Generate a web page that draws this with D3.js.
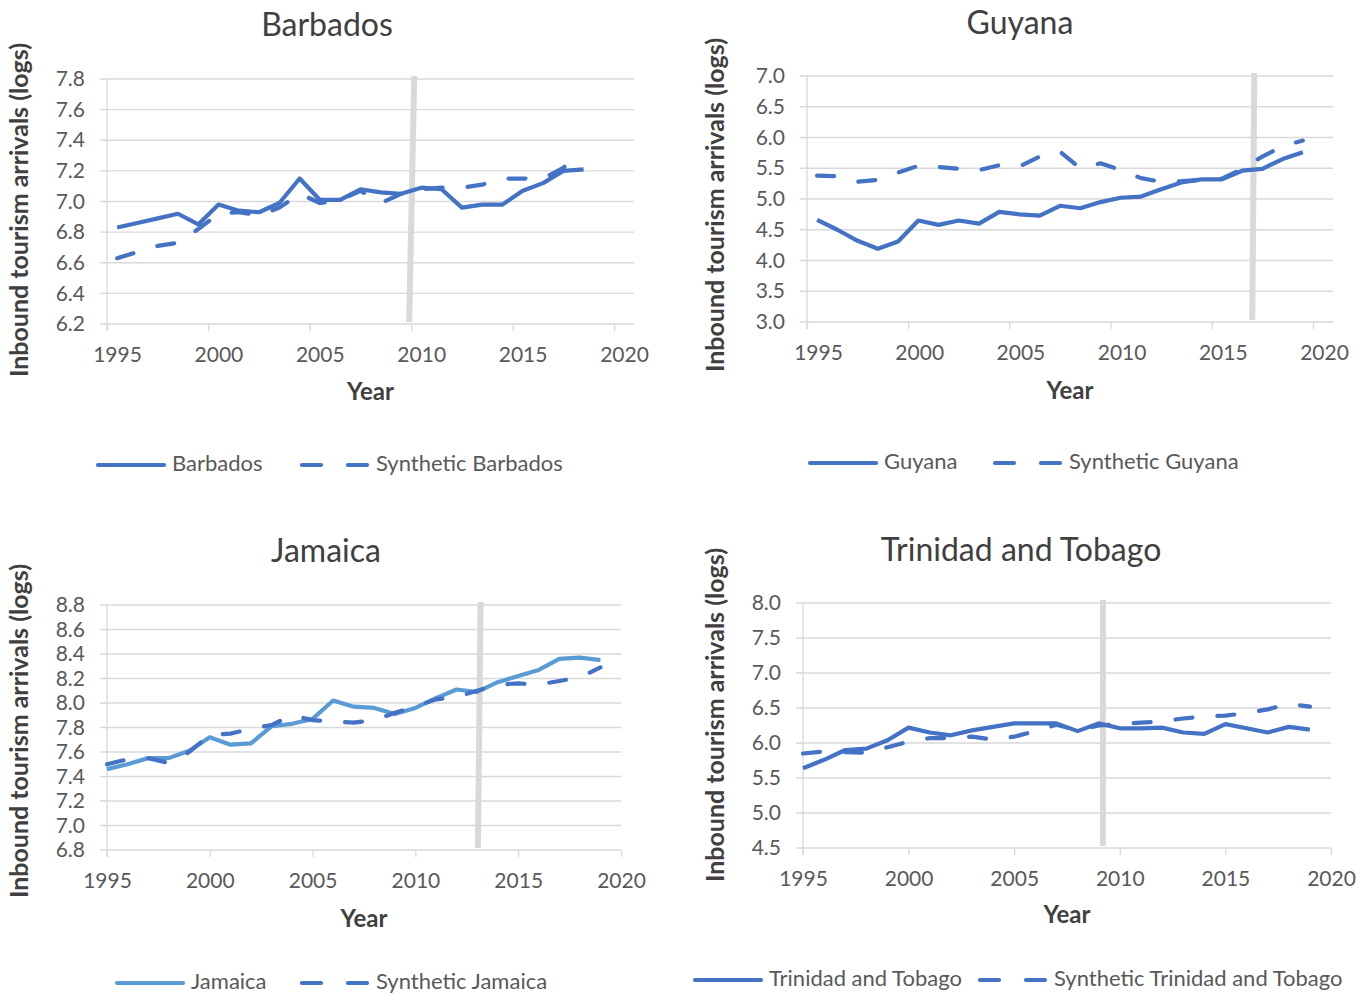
<!DOCTYPE html>
<html>
<head>
<meta charset="utf-8">
<script src="https://cdn.jsdelivr.net/npm/d3@7"></script>
<style>
  body { margin: 0; background: #fff; }
  svg { font-family: Lato, "Noto Sans", sans-serif; }
</style>
</head>
<body>
<div id="chart"></div>
<script>
// values
const barbadosYears = [1995, 1996, 1997, 1998, 1999, 2000, 2001, 2002, 2003, 2004, 2005, 2006,
  2007, 2008, 2009, 2010, 2011, 2012, 2013, 2014, 2015, 2016, 2017, 2018];
const barbadosActual = [6.83, 6.86, 6.89, 6.92, 6.85, 6.98, 6.94, 6.93, 6.99, 7.15, 7.01, 7.01,
  7.08, 7.06, 7.05, 7.09, 7.08, 6.96, 6.98, 6.98, 7.07, 7.12, 7.20, 7.21];
const barbadosSynthetic = [6.63, 6.67, 6.71, 6.73, 6.82, 6.92, 6.93, 6.91, 6.96, 7.05, 6.99, 7.01,
  7.07, 6.99, 7.05, 7.08, 7.09, 7.09, 7.11, 7.15, 7.15, 7.15, 7.22, 7.33];
const barbadosCut = [2010.15, 2009.9];
const barbadosTicks = [6.2, 6.4, 6.6, 6.8, 7.0, 7.2, 7.4, 7.6, 7.8];

const guyanaYears = [1995, 1996, 1997, 1998, 1999, 2000, 2001, 2002, 2003, 2004, 2005, 2006,
  2007, 2008, 2009, 2010, 2011, 2012, 2013, 2014, 2015, 2016, 2017, 2018, 2019];
const guyanaActual = [4.66, 4.50, 4.32, 4.19, 4.31, 4.65, 4.58, 4.65, 4.60, 4.79, 4.75, 4.73,
  4.89, 4.85, 4.95, 5.02, 5.04, 5.16, 5.27, 5.32, 5.32, 5.46, 5.49, 5.65, 5.76];
const guyanaSynthetic = [5.38, 5.37, 5.28, 5.31, 5.43, 5.54, 5.52, 5.49, 5.47, 5.55, 5.53, 5.69,
  5.77, 5.50, 5.58, 5.47, 5.34, 5.28, 5.29, 5.31, 5.33, 5.49, 5.69, 5.86, 5.95];
const guyanaCut = [2017.1, 2017.0];
const guyanaTicks = [3.0, 3.5, 4.0, 4.5, 5.0, 5.5, 6.0, 6.5, 7.0];

const jamaicaYears = guyanaYears;
const jamaicaActual = [7.46, 7.50, 7.55, 7.55, 7.61, 7.72, 7.66, 7.67, 7.81, 7.83, 7.87, 8.02,
  7.97, 7.96, 7.91, 7.96, 8.04, 8.11, 8.09, 8.17, 8.22, 8.27, 8.36, 8.37, 8.35];
const jamaicaSynthetic = [7.50, 7.54, 7.55, 7.51, 7.60, 7.74, 7.75, 7.79, 7.82, 7.90, 7.86, 7.85,
  7.84, 7.86, 7.92, 7.97, 8.03, 8.05, 8.10, 8.15, 8.16, 8.15, 8.18, 8.21, 8.29];
const jamaicaCut = [2013.17, 2013.04];
const jamaicaTicks = [6.8, 7.0, 7.2, 7.4, 7.6, 7.8, 8.0, 8.2, 8.4, 8.6, 8.8];

const trinidadYears = guyanaYears;
const trinidadActual = [5.64, 5.76, 5.90, 5.92, 6.04, 6.22, 6.15, 6.11, 6.18, 6.23, 6.28, 6.28,
  6.28, 6.17, 6.28, 6.21, 6.21, 6.22, 6.15, 6.13, 6.27, 6.21, 6.15, 6.23, 6.19];
const trinidadSynthetic = [5.85, 5.88, 5.87, 5.86, 5.94, 6.02, 6.07, 6.07, 6.09, 6.05, 6.09, 6.17,
  6.26, 6.18, 6.25, 6.27, 6.29, 6.31, 6.35, 6.38, 6.39, 6.43, 6.48, 6.56, 6.52];
const trinidadCut = [2009.2, 2009.2];
const trinidadTicks = [4.5, 5.0, 5.5, 6.0, 6.5, 7.0, 7.5, 8.0];

const xTicks = [1995, 2000, 2005, 2010, 2015, 2020];

// layout of each panel (pixels)
const panels = [
  { name: 'Barbados', years: barbadosYears, actual: barbadosActual, synthetic: barbadosSynthetic,
    cut: barbadosCut, ticks: barbadosTicks, solidColor: '#4472c4', shift: 0.5,
    x0: 107, x1: 614, gridEnd: 634, yTop: 79, yBottom: 324, labelDx: 10,
    titleX: 327, titleY: 36, yearY: 394, yTitleX: 22, yTitleY: 210,
    legendY: 465, legendX: [96, 300] },
  { name: 'Guyana', years: guyanaYears, actual: guyanaActual, synthetic: guyanaSynthetic,
    cut: guyanaCut, ticks: guyanaTicks, solidColor: '#4472c4', shift: 0.5,
    x0: 807, x1: 1313, gridEnd: 1333, yTop: 76, yBottom: 322, labelDx: 11,
    titleX: 1020, titleY: 34, yearY: 393, yTitleX: 718, yTitleY: 205,
    legendY: 463, legendX: [808, 993] },
  { name: 'Jamaica', years: jamaicaYears, actual: jamaicaActual, synthetic: jamaicaSynthetic,
    cut: jamaicaCut, ticks: jamaicaTicks, solidColor: '#5b9bd5', shift: 0,
    x0: 107, x1: 621, gridEnd: 621, yTop: 605, yBottom: 850, labelDx: 0,
    titleX: 326, titleY: 562, yearY: 921, yTitleX: 22, yTitleY: 731,
    legendY: 983, legendX: [115, 300] },
  { name: 'Trinidad and Tobago', years: trinidadYears, actual: trinidadActual, synthetic: trinidadSynthetic,
    cut: trinidadCut, ticks: trinidadTicks, solidColor: '#4472c4', shift: 0,
    x0: 803, x1: 1331, gridEnd: 1331, yTop: 603, yBottom: 848, labelDx: 0,
    titleX: 1021, titleY: 561, yearY: 917, yTitleX: 718, yTitleY: 715,
    legendY: 980, legendX: [693, 978] },
];

const dashColor = '#4472c4';
const gridColor = '#d9d9d9';
const dash = '17,25';

const svg = d3.select('#chart').append('svg')
  .attr('width', 1367)
  .attr('height', 995);

panels.forEach(p => {
  const x = d3.scaleLinear()
    .domain([1995, 2020])
    .range([p.x0, p.x1]);

  const y = d3.scaleLinear()
    .domain(d3.extent(p.ticks))
    .range([p.yBottom, p.yTop]);

  const g = svg.append('g');

  // horizontal gridlines, a little past the axis like Excel's ticks
  g.selectAll('.grid')
    .data(p.ticks)
    .enter().append('line')
    .attr('x1', p.x0 - 7)
    .attr('x2', p.gridEnd)
    .attr('y1', d => y(d))
    .attr('y2', d => y(d))
    .attr('stroke', gridColor)
    .attr('stroke-width', 1.3);

  g.append('line')
    .attr('x1', p.x0).attr('x2', p.x0)
    .attr('y1', p.yTop).attr('y2', p.yBottom + 7)
    .attr('stroke', gridColor)
    .attr('stroke-width', 1.3);

  const xAxis = g.append('g')
    .attr('transform', `translate(0,${p.yBottom})`)
    .call(d3.axisBottom(x).tickValues(xTicks).tickFormat(d3.format('d')).tickSize(7).tickPadding(16));
  xAxis.select('.domain').remove();
  xAxis.selectAll('line').attr('stroke', gridColor).attr('stroke-width', 1.3);
  xAxis.selectAll('text')
    .attr('dx', p.labelDx)
    .attr('fill', '#595959')
    .attr('font-size', 21)
    .attr('font-family', 'Lato, sans-serif');

  const yAxis = g.append('g')
    .attr('transform', `translate(${p.x0},0)`)
    .call(d3.axisLeft(y).tickValues(p.ticks).tickFormat(d3.format('.1f')).tickSize(0).tickPadding(22));
  yAxis.select('.domain').remove();
  yAxis.selectAll('text')
    .attr('fill', '#595959')
    .attr('font-size', 21)
    .attr('font-family', 'Lato, sans-serif');

  // treatment year marker
  g.append('line')
    .attr('x1', x(p.cut[0]))
    .attr('x2', x(p.cut[1]))
    .attr('y1', p.yTop - 3)
    .attr('y2', p.yBottom - 2)
    .attr('stroke', '#d9d9d9')
    .attr('stroke-width', 6);

  const line = d3.line()
    .x(d => x(d[0] + p.shift))
    .y(d => y(d[1]));

  g.append('path')
    .datum(p.years.map((yr, i) => [yr, p.actual[i]]))
    .attr('d', line)
    .attr('fill', 'none')
    .attr('stroke', p.solidColor)
    .attr('stroke-width', 4.2)
    .attr('stroke-linejoin', 'round');

  g.append('path')
    .datum(p.years.map((yr, i) => [yr, p.synthetic[i]]))
    .attr('d', line)
    .attr('fill', 'none')
    .attr('stroke', dashColor)
    .attr('stroke-width', 4.2)
    .attr('stroke-dasharray', dash)
    .attr('stroke-linecap', 'round')
    .attr('stroke-linejoin', 'round');

  g.append('text')
    .attr('x', p.titleX)
    .attr('y', p.titleY)
    .attr('text-anchor', 'middle')
    .attr('fill', '#404040')
    .attr('font-size', 32)
    .text(p.name);

  g.append('text')
    .attr('x', (p.x0 + p.gridEnd) / 2)
    .attr('y', p.yearY)
    .attr('text-anchor', 'middle')
    .attr('dominant-baseline', 'middle')
    .attr('fill', '#404040')
    .attr('font-size', 24)
    .attr('font-weight', 'bold')
    .text('Year');

  g.append('text')
    .attr('transform', `translate(${p.yTitleX},${p.yTitleY}) rotate(-90)`)
    .attr('text-anchor', 'middle')
    .attr('dominant-baseline', 'middle')
    .attr('fill', '#404040')
    .attr('font-size', 25)
    .attr('font-weight', 'bold')
    .text('Inbound tourism arrivals (logs)');

  // legend
  const legend = g.selectAll('.legend')
    .data([
      { label: p.name, color: p.solidColor, dash: null },
      { label: 'Synthetic ' + p.name, color: dashColor, dash: '19,27' },
    ])
    .enter().append('g')
    .attr('transform', (d, i) => `translate(${p.legendX[i]},${p.legendY})`);

  legend.append('line')
    .attr('x1', 2).attr('x2', d => d.dash ? 67 : 68)
    .attr('stroke', d => d.color)
    .attr('stroke-width', 4.2)
    .attr('stroke-linecap', 'round')
    .attr('stroke-dasharray', d => d.dash);

  legend.append('text')
    .attr('x', 76)
    .attr('dominant-baseline', 'middle')
    .attr('fill', '#595959')
    .attr('font-size', 22)
    .text(d => d.label);
});
</script>
</body>
</html>
